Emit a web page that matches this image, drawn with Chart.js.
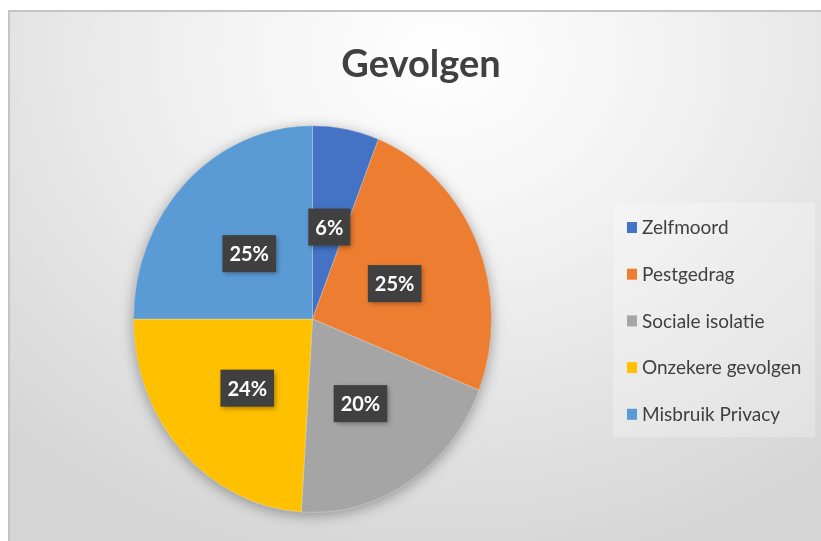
<!DOCTYPE html>
<html lang="nl">
<head>
<meta charset="UTF-8" />
<title>Gevolgen</title>
<script src="https://cdn.jsdelivr.net/npm/chart.js"></script>
<style>
body {
    margin: 0;
    background: #fff;
    width: 821px;
    height: 541px;
    overflow: hidden;
    position: relative;
}
.frame {
    position: absolute;
    left: 8px;
    top: 10px;
    width: 830px;
    height: 545px;
    border-left: 2px solid #c4c4c4;
    border-top: 2px solid #c4c4c4;
    background: radial-gradient(ellipse 75% 95% at 52% 8%, #ffffff 0%, #f3f3f3 35%, #e3e3e3 70%, #d6d6d6 100%);
}
#chart {
    position: absolute;
    left: 0;
    top: 0;
}
</style>
</head>
<body>
<div class="frame"></div>
<canvas id="chart" width="821" height="541"></canvas>

<script>
// data
const titleText = 'Gevolgen';
const categories = ['Zelfmoord', 'Pestgedrag', 'Sociale isolatie', 'Onzekere gevolgen', 'Misbruik Privacy'];
const values = [6, 25, 20, 24, 25];
const colors = ['#4472C4', '#ED7D31', '#A5A5A5', '#FFC000', '#5B9BD5'];

// pie in the reference is slightly taller than wide
const stretchY = 1.08;

const piePlugin = {
    id: 'excelLook',
    beforeDatasetsDraw(chart) {
        const ctx = chart.ctx;
        const arc = chart.getDatasetMeta(0).data[0];
        const cx = arc.x, cy = arc.y, r = arc.outerRadius;
        ctx.save();
        // soft shadow under the pie
        ctx.save();
        ctx.shadowColor = 'rgba(0,0,0,0.35)';
        ctx.shadowBlur = 14;
        ctx.shadowOffsetY = 3;
        ctx.fillStyle = '#999';
        ctx.beginPath();
        ctx.ellipse(cx, cy, r, r * stretchY, 0, 0, Math.PI * 2);
        ctx.fill();
        ctx.restore();
        ctx.translate(cx, cy);
        ctx.scale(1, stretchY);
        ctx.translate(-cx, -cy);
    },
    afterDatasetsDraw(chart) {
        chart.ctx.restore();
    },
    afterDraw(chart) {
        const ctx = chart.ctx;
        const meta = chart.getDatasetMeta(0);
        const total = values.reduce((a, b) => a + b, 0);

        // title
        ctx.save();
        ctx.fillStyle = '#404040';
        ctx.font = 'bold 38px Lato';
        ctx.textAlign = 'center';
        ctx.textBaseline = 'alphabetic';
        ctx.fillText(titleText, 421, 77);
        ctx.restore();

        // data labels
        meta.data.forEach((el, i) => {
            const cy0 = el.y;
            const p = el.getCenterPoint();
            const x = p.x;
            const y = cy0 + (p.y - cy0) * stretchY + 3;
            const txt = Math.round(values[i] / total * 100) + '%';
            ctx.save();
            ctx.font = 'bold 20px Lato';
            const w = ctx.measureText(txt).width + 14;
            const h = 37;
            ctx.shadowColor = 'rgba(0,0,0,0.35)';
            ctx.shadowBlur = 5;
            ctx.shadowOffsetX = 2;
            ctx.shadowOffsetY = 2;
            ctx.fillStyle = '#404040';
            ctx.fillRect(x - w / 2, y - h / 2, w, h);
            ctx.shadowColor = 'transparent';
            ctx.fillStyle = '#ffffff';
            ctx.textAlign = 'center';
            ctx.textBaseline = 'middle';
            ctx.fillText(txt, x, y + 1);
            ctx.restore();
        });

        // legend box
        ctx.save();
        ctx.fillStyle = 'rgba(255,255,255,0.25)';
        ctx.fillRect(613, 203, 202, 234);
        ctx.font = '19px Lato';
        ctx.textBaseline = 'middle';
        categories.forEach((c, i) => {
            const y = 228 + i * 46.7;
            ctx.fillStyle = colors[i];
            ctx.fillRect(627, y - 6, 10, 11);
            ctx.fillStyle = '#404040';
            ctx.fillText(c, 642, y);
        });
        ctx.restore();
    }
};

new Chart(document.getElementById('chart'), {
    type: 'pie',
    data: {
        labels: categories,
        datasets: [{
            data: values,
            backgroundColor: colors,
            borderColor: 'rgba(255,255,255,0.25)',
            borderWidth: 1
        }]
    },
    options: {
        responsive: false,
        animation: false,
        layout: { padding: { left: 133, right: 329, top: 125, bottom: 28 } },
        plugins: {
            legend: { display: false },
            title: { display: false },
            tooltip: { enabled: false }
        }
    },
    plugins: [piePlugin]
});
</script>
</body>
</html>
